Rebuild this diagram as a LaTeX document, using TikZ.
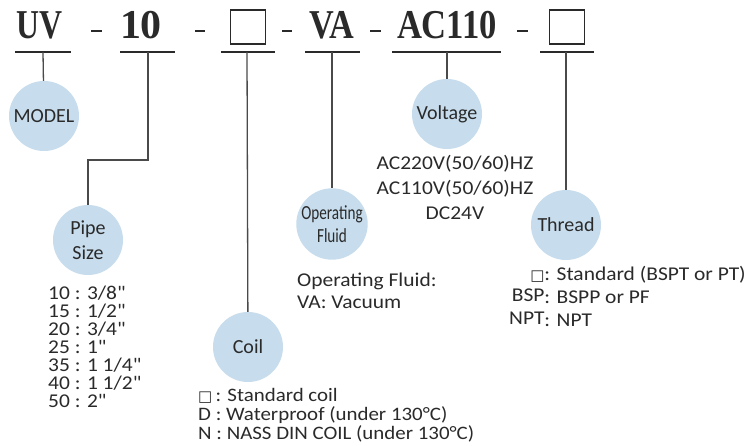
\documentclass[tikz,border=0pt]{standalone}
\usepackage{fontspec}
\usepackage{graphicx}
\setmainfont{Carlito}
\newfontfamily\listfont[FakeStretch=1.1,Ligatures=TeXOff]{Carlito}
\newfontfamily\headfont{Liberation Serif}
\newfontfamily\symfont{DejaVu Sans}
\definecolor{ink}{HTML}{2A2A2A}
\definecolor{linegray}{HTML}{4A4A4A}
\definecolor{bubble}{HTML}{C7DCEC}
\newcommand{\sq}{{\symfont\fontsize{15}{15}\selectfont □}}
\tikzset{
  bub/.style={circle, fill=bubble, minimum size=70pt, inner sep=0pt, text=ink,
    font=\fontsize{20}{25}\selectfont, align=center},
  conn/.style={draw=linegray, line width=1.3pt},
  uline/.style={draw=ink, line width=1.3pt},
  dashmark/.style={draw=ink, line width=1.7pt},
  head/.style={anchor=base, inner sep=0pt, text=ink,
    font=\headfont\bfseries\fontsize{41}{41}\selectfont},
  listtext/.style={inner sep=0pt, text=ink, align=left},
}
\begin{document}
\begin{tikzpicture}[x=1pt,y=-1pt]
\fill[white] (0,0) rectangle (748,446);
\useasboundingbox (0,0) rectangle (748,446);

% heading row
\node[head] (uv) at (40,39) {\resizebox{46pt}{\height}{UV}};
\node[head] (ten) at (141,39) {\resizebox{42pt}{\height}{10}};
\node[draw=ink, line width=1.5pt, minimum width=35pt, minimum height=34pt, inner sep=0pt] (box1) at (248,27) {};
\node[head] (va) at (331.5,39) {\resizebox{45pt}{\height}{VA}};
\node[head] (ac) at (447,39) {\resizebox{100pt}{\height}{AC110}};
\node[draw=ink, line width=1.5pt, minimum width=35pt, minimum height=34pt, inner sep=0pt] (box2) at (567,27) {};

\draw[dashmark] (91,31) -- (102,31);
\draw[dashmark] (195,31) -- (205,31);
\draw[dashmark] (282,31) -- (292,31);
\draw[dashmark] (370,31) -- (381,31);
\draw[dashmark] (517,31) -- (528,31);

% underlines
\draw[uline] (15,52) -- (71,52);
\draw[uline] (120,52) -- (175,52);
\draw[uline] (221,52) -- (275,52);
\draw[uline] (305,52) -- (360,52);
\draw[uline] (392,52) -- (501,52);
\draw[uline] (540,52) -- (594,52);

\coordinate (uvu) at (43,52);
\coordinate (tenu) at (148,52);
\coordinate (box1u) at (247,52);
\coordinate (vau) at (332,52);
\coordinate (acu) at (447,52);
\coordinate (box2u) at (566,52);

% bubbles
\node[bub] (model) at (44,116) {MODEL};
\node[bub] (pipe) at (88,240) {Pipe\\Size};
\node[bub] (coil) at (248,347) {Coil};
\node[bub] (fluid) at (332,224) {\scalebox{0.76}[1]{Operating}\\[-2pt]\scalebox{0.76}[1]{Fluid}};
\node[bub] (volt) at (447,114) {Voltage};
\node[bub] (thread) at (566,225) {Thread};

% connectors
\coordinate (pbend) at (88,160);
\draw[conn] (uvu) -- (model);
\draw[conn] (tenu) |- (pbend) -- (pipe);
\draw[conn] (box1u) -- (coil);
\draw[conn] (vau) -- (fluid);
\draw[conn] (acu) -- (volt);
\draw[conn] (box2u) -- (thread);

% lists
\node[listtext, anchor=north west, font=\listfont\fontsize{19.5}{18}\selectfont] (pipelist) at (48,286)
  {10 : 3/8"\\15 : 1/2"\\20 : 3/4"\\25 : 1"\\35 : 1 1/4"\\40 : 1 1/2"\\50 : 2"};
\node[listtext, anchor=north west, font=\listfont\fontsize{19}{19}\selectfont] (coillist) at (198,388)
  {\sq\,: Standard coil\\D : Waterproof (under 130°C)\\N : NASS DIN COIL (under 130°C)};
\node[listtext, anchor=north, align=center, font=\listfont\fontsize{19.5}{25}\selectfont] (voltlist) at (455,155)
  {AC220V(50/60)HZ\\AC110V(50/60)HZ\\DC24V};
\node[listtext, anchor=north west, font=\listfont\fontsize{19.5}{22}\selectfont] (fluidlist) at (297,273)
  {Operating Fluid:\\VA: Vacuum};
\node[listtext, anchor=north west, font=\listfont\fontsize{19.5}{22}\selectfont] (threadlist) at (509,265)
  {\begin{tabular}{@{}r@{}l@{}}
   \sq\ & : Standard (BSPT or PT)\\[1pt]
   \raisebox{2pt}{BSP} & : BSPP or PF\\[1pt]
   \raisebox{2pt}{NPT} & : NPT
   \end{tabular}};
\end{tikzpicture}
\end{document}
